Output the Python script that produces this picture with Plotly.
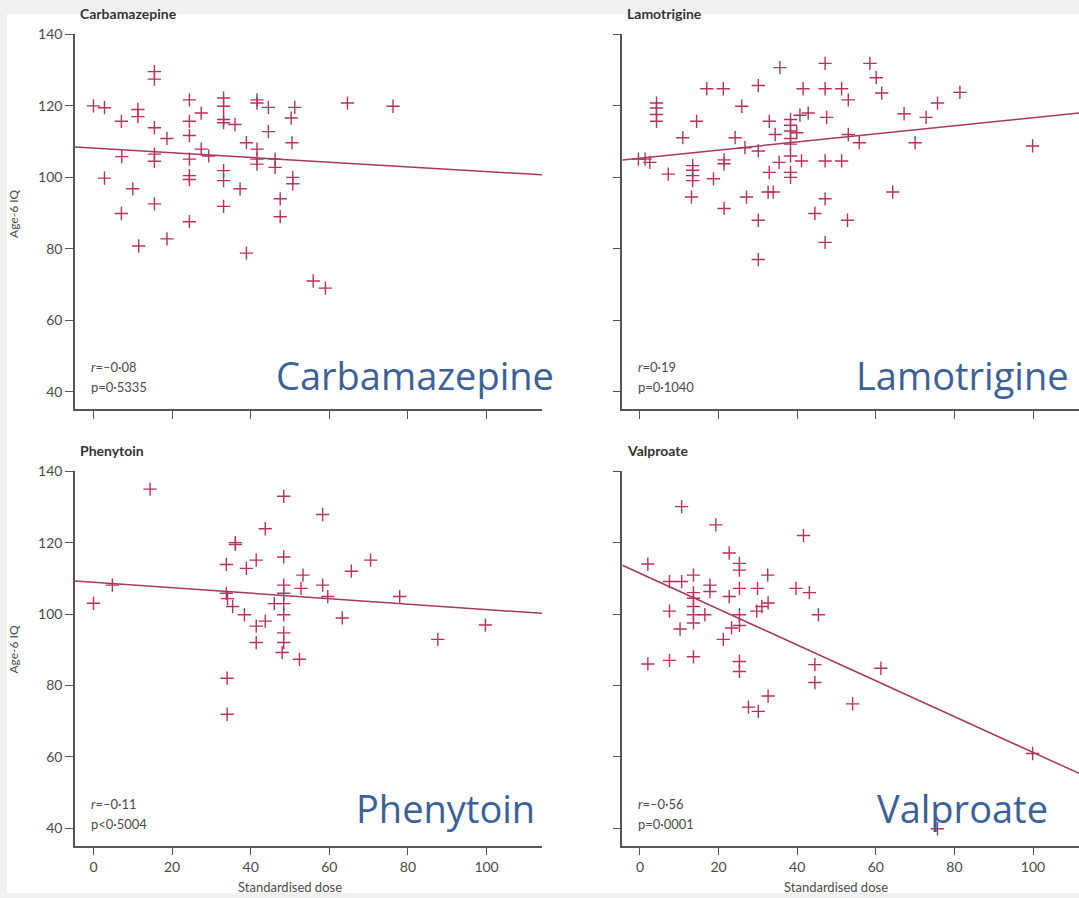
import plotly.graph_objects as go

W, H = 1079, 898

# ---------------- data ----------------
carb_dose = [0, 2.8, 7.1, 11.3, 11.3, 15.5, 15.5, 15.5, 18.7, 7.2, 2.8, 10, 7.1, 15.5, 15.5, 15.5,
             24.4, 24.4, 24.4, 27.4, 24.4, 24.4, 24.4, 27.4, 29.3, 24.4, 33.1, 33.1, 33.1, 33.1, 36,
             33.1, 33.1, 37.3, 33.1, 38.9, 41.6, 41.6, 44.5, 41.6, 41.6, 41.6, 44.5, 46.2, 46.2, 47.5,
             47.5, 51.2, 50.3, 50.5, 50.7, 50.7, 64.6, 76.2, 11.5, 18.7, 38.9, 55.9, 59]
carb_iq = [120, 119.5, 115.7, 119, 117, 129.6, 127.5, 113.9, 110.9, 105.8, 99.8, 96.8, 89.9, 106.5, 104.5, 92.6,
           121.7, 115.7, 111.7, 118, 105.1, 100.5, 99.4, 107.9, 106, 87.6, 122.2, 119.9, 116.2, 115.3, 114.8,
           101.9, 99.1, 96.8, 91.9, 109.7, 121.7, 120.8, 119.6, 107.9, 105.1, 103.7, 112.8, 105.1, 102.8, 94,
           89, 119.6, 116.6, 109.7, 100, 98.2, 120.8, 119.9, 80.8, 82.8, 78.8, 71, 69]

lamo_dose = [-0.4, 1.3, 2.5, 4.2, 4.2, 4.2, 4.2, 7.2, 10.9, 13.4, 13.4, 13.4, 13.4, 13.1, 14.4, 17, 21.2,
             18.7, 21.4, 21.4, 21.4, 25.9, 24.2, 26.7, 30.1, 27.1, 30.1, 30.1, 30.1, 32.9, 34.4, 32.9, 32.6,
             33.9, 35.4, 35.6, 38.3, 38.3, 38.3, 38.3, 38.3, 38.3, 38.3, 38.3, 39.9, 40.7, 42.8, 41.1, 41.5,
             47.1, 47.1, 47.5, 47.1, 47.1, 44.5, 51.3, 53, 58.5, 60.1, 61.5, 53, 55.8, 51.3, 67.2, 72.8, 75.7,
             81.4, 70, 99.9, 64.3, 52.8, 47.1]
lamo_iq = [105.1, 105.1, 104.2, 120.8, 119.4, 117.6, 115.7, 100.9, 111.1, 103.3, 102, 100.5, 99.1, 94.5, 115.7,
           124.8, 124.8, 99.6, 104.9, 103.8, 91.3, 119.9, 111.1, 108.3, 107.4, 94.5, 125.7, 88, 77, 115.7, 112,
           101.4, 95.9, 95.9, 104.2, 130.7, 116.2, 114.6, 113, 110.9, 109.3, 106, 101.4, 100, 112.5, 117.4, 118,
           104.6, 124.8, 124.8, 131.9, 116.8, 104.6, 94, 89.9, 124.8, 121.7, 131.9, 127.9, 123.6, 112, 109.7,
           104.6, 117.8, 116.8, 120.8, 123.8, 109.7, 108.8, 95.9, 88, 81.8]

phen_dose = [0, 4.8, 14.4, 33.8, 36.1, 36.1, 38.9, 41.4, 43.7, 48.4, 48.4, 33.8, 34.1, 35.4, 38.4, 41.4,
             41.4, 43.7, 46, 48.4, 48.4, 48.4, 48.4, 48.4, 48.4, 48, 58.3, 70.5, 65.6, 53.3, 52.8, 58.3, 59.6,
             77.9, 63.3, 52.4, 87.6, 99.7, 34, 34]
phen_iq = [103, 108.1, 135, 113.9, 120, 119.5, 112.8, 115.1, 123.9, 133, 116, 105.8, 104.3, 102.1, 99.8, 96.6,
           92, 98, 102.9, 108.1, 105.8, 102.9, 99.8, 94.7, 92, 89.2, 127.9, 115.1, 112, 110.9, 107.2, 108.1, 104.9,
           104.9, 98.9, 87.3, 92.9, 96.9, 82, 71.9]

valp_dose = [10.6, 19.3, 41.6, 22.7, 25.3, 25.3, 2, 32.5, 13.6, 7.5, 10.6, 13.6, 13.6, 17.8, 17.8, 22.7, 25.3,
             29.9, 39.7, 43.1, 32.6, 31, 29.7, 45.4, 7.5, 13.6, 13.6, 13.6, 16.5, 25.3, 25.3, 23.3, 10.2, 21.2,
             2, 7.5, 13.6, 25.3, 25.3, 44.5, 44.5, 61.3, 32.6, 27.6, 30.1, 54.1, 99.9, 75.7]
valp_iq = [130.1, 125, 122, 117.1, 114.2, 112.3, 114, 110.9, 110.9, 109.1, 109.1, 106, 104.4, 108.1, 106.3, 104.9,
           107.2, 107.2, 107.2, 106, 103.1, 102.1, 100.8, 99.8, 100.8, 102.1, 99.8, 97.5, 99.8, 99.8, 96.8, 96.1,
           95.8, 92.9, 86, 87, 88, 86.7, 83.9, 85.8, 80.8, 84.8, 77, 73.9, 72.7, 74.8, 60.9, 39.8]

# regression lines (intercept, slope)
fit_intercepts = [108.2, 105.4, 108.9, 111.4]
fit_slopes = [-0.0655, 0.1127, -0.0764, -0.502]

drug_names = ["Carbamazepine", "Lamotrigine", "Phenytoin", "Valproate"]
r_labels = ["<i>r</i>=–0·08", "<i>r</i>=0·19", "<i>r</i>=–0·11", "<i>r</i>=–0·56"]
p_labels = ["p=0·5335", "p=0·1040", "p&lt;0·5004", "p=0·0001"]

x_ticks = [0, 20, 40, 60, 80, 100]
y_ticks = [40, 60, 80, 100, 120, 140]
x_title = "Standardised dose"
y_title = "Age-6 IQ"

# ---------------- layout helpers ----------------
def px_x(px):
    return px / W

def px_y(py):
    return 1 - py / H

MARK = "#b8315e"
LINE = "#a8375c"
AXC = "#555555"
TXT = "#4a4a4a"
BLUE = "#3c6199"
FONT = "Lato"

# panel geometry: (x0px, x1px, ytop px, ybottom px, xrange, yrange)
panels = [
    (75, 542, 25.7, 404, [-4.7, 114.1], [35.2, 140]),
    (622.3, 1079, 25.7, 404, [-4.5, 111.7], [35.2, 140]),
    (75, 542, 467, 845, [-4.7, 114.1], [35.1, 140]),
    (622.3, 1079, 467, 845, [-4.5, 111.7], [35.1, 140]),
]
title_y = [5, 5, 446, 446]

datasets = [(carb_dose, carb_iq), (lamo_dose, lamo_iq), (phen_dose, phen_iq), (valp_dose, valp_iq)]

fig = go.Figure()
layout = {}
annotations = []

for i, ((x0, x1, yt, yb, xr, yr), (dx, dy)) in enumerate(zip(panels, datasets)):
    n = "" if i == 0 else str(i + 1)
    xa = "x" + n
    ya = "y" + n
    fig.add_trace(go.Scatter(
        x=dx, y=dy, mode="markers", xaxis=xa, yaxis=ya,
        marker=dict(symbol="cross-thin-open", size=9.5, line=dict(color=MARK, width=1.4), color=MARK),
        hoverinfo="skip", showlegend=False, cliponaxis=False))
    xs = [xr[0], xr[1]]
    ys = [fit_intercepts[i] + fit_slopes[i] * v for v in xs]
    fig.add_trace(go.Scatter(
        x=xs, y=ys, mode="lines", xaxis=xa, yaxis=ya,
        line=dict(color=LINE, width=1.5), hoverinfo="skip", showlegend=False))

    show_xlabels = i >= 2
    show_ylabels = i % 2 == 0
    layout["xaxis" + n] = dict(
        domain=[px_x(x0), px_x(x1)], range=xr, anchor=ya,
        showline=True, linecolor=AXC, linewidth=1.5, showgrid=False, zeroline=False,
        ticks="outside", ticklen=8, tickwidth=1.3, tickcolor=AXC,
        tickvals=x_ticks, showticklabels=show_xlabels,
        tickfont=dict(family=FONT, size=14, color=TXT), fixedrange=True)
    layout["yaxis" + n] = dict(
        domain=[px_y(yb), px_y(yt)], range=yr, anchor=xa,
        showline=True, linecolor=AXC, linewidth=1.5, showgrid=False, zeroline=False,
        ticks="outside", ticklen=8, tickwidth=1.3, tickcolor=AXC,
        tickvals=y_ticks, showticklabels=show_ylabels,
        tickfont=dict(family=FONT, size=14, color=TXT), fixedrange=True)

    # panel title
    annotations.append(dict(
        x=px_x(x0 + 3), y=px_y(title_y[i]), xref="paper", yref="paper",
        xanchor="left", yanchor="middle", showarrow=False,
        text="<b>" + drug_names[i] + "</b>", font=dict(family=FONT, size=14, color="#333333")))
    # r and p
    tx = x0 + 14
    annotations.append(dict(
        x=px_x(tx), y=px_y(yb - 42), xref="paper", yref="paper",
        xanchor="left", yanchor="middle", showarrow=False,
        text=r_labels[i], font=dict(family=FONT, size=13, color=TXT)))
    annotations.append(dict(
        x=px_x(tx), y=px_y(yb - 22), xref="paper", yref="paper",
        xanchor="left", yanchor="middle", showarrow=False,
        text=p_labels[i], font=dict(family=FONT, size=13, color=TXT)))

# big overlay labels
big_pos = [(414.5, 370), (962, 370), (445, 807), (962, 807)]
for name, (bx, by) in zip(drug_names, big_pos):
    annotations.append(dict(
        x=px_x(bx), y=px_y(by), xref="paper", yref="paper",
        xanchor="center", yanchor="middle", showarrow=False,
        text=name, font=dict(family="Open Sans", size=38, color=BLUE)))

# axis titles
for (tx, ty) in [(14, 207), (14, 647)]:
    annotations.append(dict(
        x=px_x(tx), y=px_y(ty), xref="paper", yref="paper",
        xanchor="center", yanchor="middle", showarrow=False, textangle=-90,
        text=y_title, font=dict(family=FONT, size=12, color=TXT)))
for (tx, ty) in [(290, 887), (836, 887)]:
    annotations.append(dict(
        x=px_x(tx), y=px_y(ty), xref="paper", yref="paper",
        xanchor="center", yanchor="middle", showarrow=False,
        text=x_title, font=dict(family=FONT, size=13, color=TXT)))

fig.update_layout(
    width=W, height=H, margin=dict(l=0, r=0, t=0, b=0, pad=0),
    paper_bgcolor="#f1f1f1", plot_bgcolor="rgba(0,0,0,0)",
    showlegend=False, annotations=annotations,
    shapes=[dict(type="rect", xref="paper", yref="paper", x0=7 / W, x1=1, y0=5 / H, y1=1 - 5 / H,
                 fillcolor="white", line=dict(width=0), layer="below")],
    **layout)

fig.write_html("out.html")
